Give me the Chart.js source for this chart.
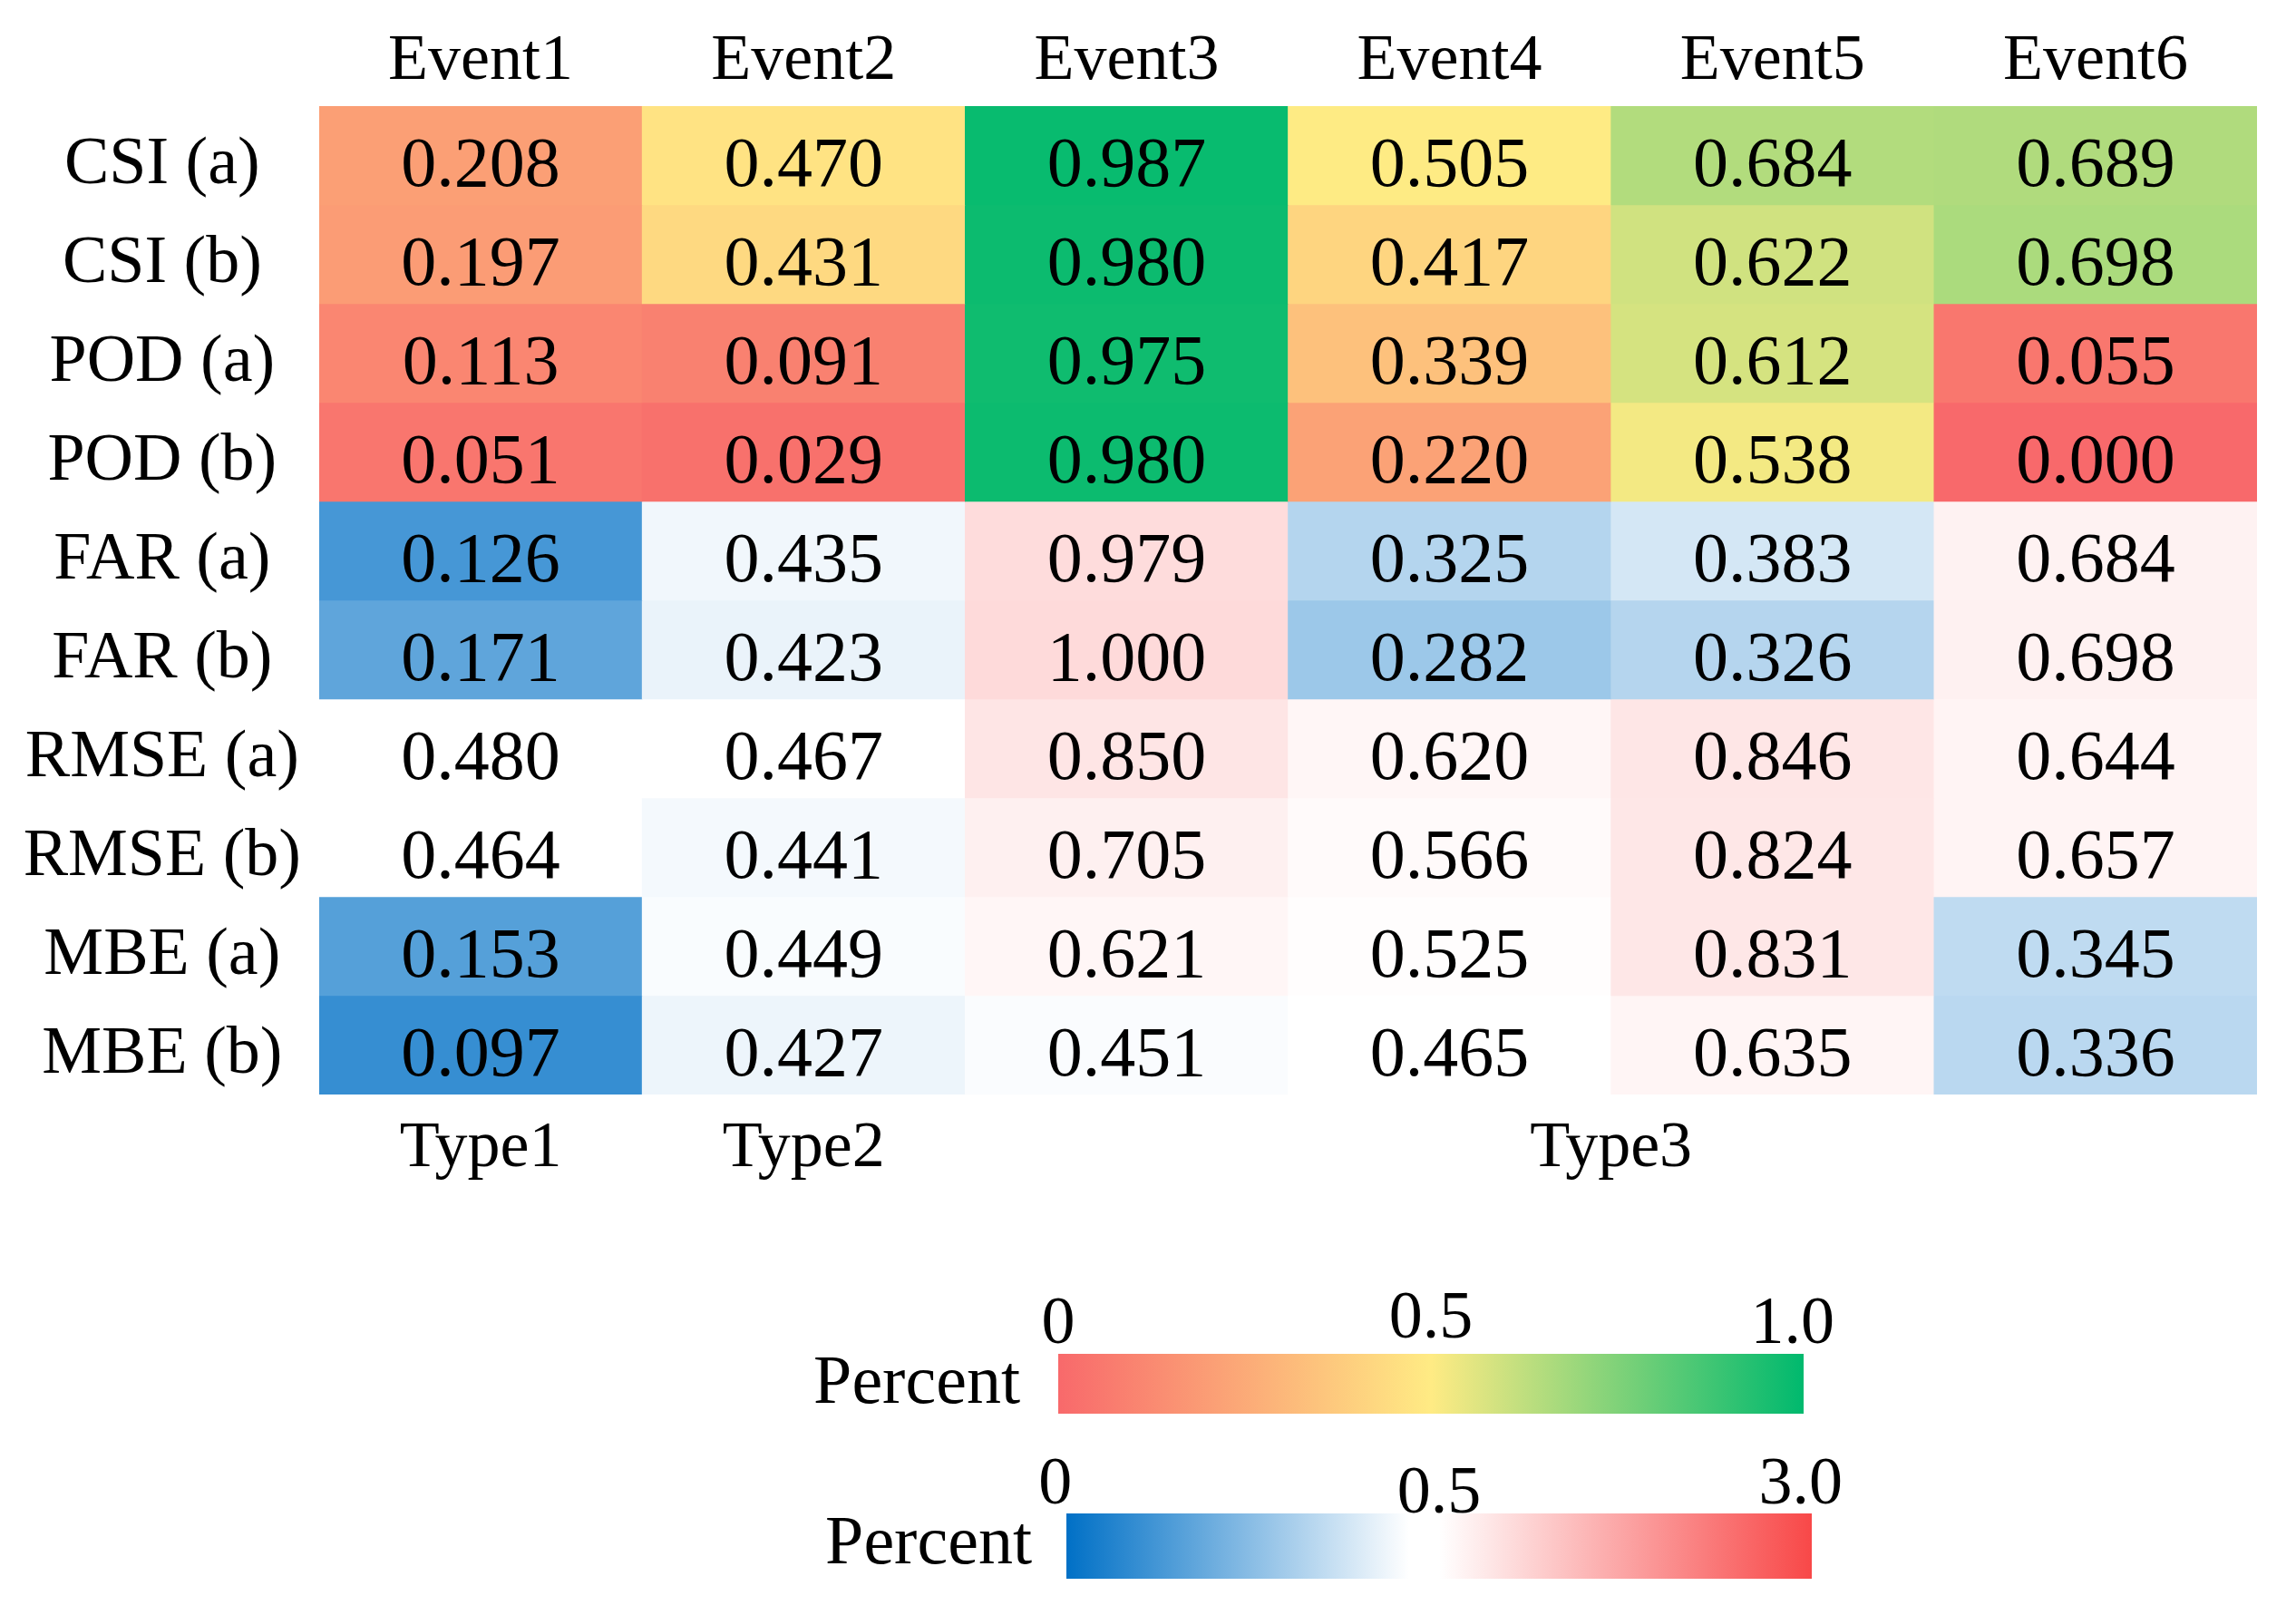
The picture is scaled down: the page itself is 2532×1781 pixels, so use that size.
<!DOCTYPE html>
<html>
<head>
<meta charset="utf-8">
<script src="https://cdn.jsdelivr.net/npm/chart.js@4.4.1/dist/chart.umd.min.js"></script>
<style>
  html, body { margin: 0; padding: 0; background: #fff; }
  #wrap { width: 2532px; height: 1781px; position: relative; }
</style>
</head>
<body>
<div id="wrap"><canvas id="heat"></canvas></div>
<script>
// column and row names
const events = ['Event1', 'Event2', 'Event3', 'Event4', 'Event5', 'Event6'];
const metrics = ['CSI (a)', 'CSI (b)', 'POD (a)', 'POD (b)', 'FAR (a)', 'FAR (b)',
                 'RMSE (a)', 'RMSE (b)', 'MBE (a)', 'MBE (b)'];

// values per row, one entry per event
const csiA  = [0.208, 0.470, 0.987, 0.505, 0.684, 0.689];
const csiB  = [0.197, 0.431, 0.980, 0.417, 0.622, 0.698];
const podA  = [0.113, 0.091, 0.975, 0.339, 0.612, 0.055];
const podB  = [0.051, 0.029, 0.980, 0.220, 0.538, 0.000];
const farA  = [0.126, 0.435, 0.979, 0.325, 0.383, 0.684];
const farB  = [0.171, 0.423, 1.000, 0.282, 0.326, 0.698];
const rmseA = [0.480, 0.467, 0.850, 0.620, 0.846, 0.644];
const rmseB = [0.464, 0.441, 0.705, 0.566, 0.824, 0.657];
const mbeA  = [0.153, 0.449, 0.621, 0.525, 0.831, 0.345];
const mbeB  = [0.097, 0.427, 0.451, 0.465, 0.635, 0.336];

const rows = [csiA, csiB, podA, podB, farA, farB, rmseA, rmseB, mbeA, mbeB];
// which colour scale each row uses: 'ryg' = red-yellow-green (0..1), 'bwr' = blue-white-red (0..3)
const rowScale = ['ryg', 'ryg', 'ryg', 'ryg', 'bwr', 'bwr', 'bwr', 'bwr', 'bwr', 'bwr'];

// group labels under the columns, with the column range each one covers
const typeLabels = ['Type1', 'Type2', 'Type3'];
const typeSpans = [[0, 1], [1, 2], [2, 6]];

// colour bar tick labels
const barTitle = 'Percent';
const bar1Ticks = ['0', '0.5', '1.0'];
const bar2Ticks = ['0', '0.5', '3.0'];

const FONT = '"Liberation Serif", "Times New Roman", serif';

const RED = [248, 105, 107], YEL = [255, 235, 132], GRN = [0, 185, 110];
const BLUE = [0, 112, 198], WHITE = [255, 255, 255], HOT = [248, 72, 72];

function mix(a, b, t) {
    t = Math.max(0, Math.min(1, t));
    return 'rgb(' + a.map((c, k) => Math.round(c + (b[k] - c) * t)).join(',') + ')';
}
function rgb(c) { return mix(c, c, 0); }

function rygColor(v) {
    if (v <= 0.5) return mix(RED, YEL, v / 0.5);
    return mix(YEL, GRN, Math.pow((v - 0.5) / 0.5, 1.2));
}

function bwrColor(v) {
    if (v <= 0.46) return mix(BLUE, WHITE, v / 0.46);
    if (v <= 0.5) return rgb(WHITE);
    return mix(WHITE, HOT, (v - 0.5) / 2.5);
}

// each row becomes a floating bar dataset spanning [i, i+1] on the y axis
const datasets = rows.map((vals, i) => ({
    label: metrics[i],
    data: vals.map(() => [i, i + 1]),
    backgroundColor: vals.map(v => rowScale[i] === 'ryg' ? rygColor(v) : bwrColor(v)),
    borderWidth: 0,
    grouped: false,
    barPercentage: 1,
    categoryPercentage: 1
}));

// write the value in every cell
const cellText = {
    id: 'cellText',
    afterDatasetsDraw(chart) {
        const ctx = chart.ctx;
        ctx.save();
        ctx.font = '78px ' + FONT;
        ctx.fillStyle = '#000';
        ctx.textAlign = 'center';
        ctx.textBaseline = 'middle';
        chart.data.datasets.forEach((ds, i) => {
            chart.getDatasetMeta(i).data.forEach((bar, j) => {
                const y = (bar.y + bar.base) / 2;
                ctx.fillText(rows[i][j].toFixed(3), bar.x, y + 13);
            });
        });
        ctx.restore();
    }
};

// the two colour bars under the table
const colorBars = {
    id: 'colorBars',
    afterDraw(chart) {
        const ctx = chart.ctx;
        ctx.save();

        function drawBar(x, y, w, h, stops, ticks, tickPos, tickY, titleRight, titleY) {
            const g = ctx.createLinearGradient(x, 0, x + w, 0);
            stops.forEach(s => g.addColorStop(s[0], s[1]));
            ctx.fillStyle = g;
            ctx.fillRect(x, y, w, h);

            ctx.fillStyle = '#000';
            ctx.font = '74px ' + FONT;
            ctx.textBaseline = 'alphabetic';
            ctx.textAlign = 'center';
            ticks.forEach((t, k) => ctx.fillText(t, x + w * tickPos[k], tickY[k]));
            ctx.font = '76px ' + FONT;
            ctx.textAlign = 'right';
            ctx.fillText(barTitle, titleRight, titleY);
        }

        drawBar(1167, 1493, 822, 66,
            [[0, rgb(RED)], [0.5, rgb(YEL)], [1, rgb(GRN)]],
            bar1Ticks, [0, 0.5, 0.985], [1481, 1475, 1481], 1125, 1547);

        drawBar(1176, 1669, 822, 72,
            [[0, rgb(BLUE)], [0.46, 'rgb(255,255,255)'], [0.5, 'rgb(255,255,255)'], [1, rgb(HOT)]],
            bar2Ticks, [-0.015, 0.5, 0.985], [1658, 1668, 1658], 1138, 1724);

        ctx.restore();
    }
};

const ctx = document.getElementById('heat').getContext('2d');
new Chart(ctx, {
    type: 'bar',
    data: { labels: events, datasets: datasets },
    options: {
        responsive: true,
        maintainAspectRatio: false,
        animation: false,
        layout: { padding: { left: 0, right: 43, top: 0, bottom: 0 } },
        plugins: { legend: { display: false }, tooltip: { enabled: false } },
        scales: {
            x: {
                position: 'top',
                grid: { display: false },
                border: { display: false },
                ticks: { color: '#000', font: { family: FONT, size: 72 }, padding: -2, maxRotation: 0 },
                afterFit(scale) { scale.height = 117; }
            },
            x2: {
                type: 'linear',
                position: 'bottom',
                offset: false,
                min: 0,
                max: events.length,
                grid: { display: false },
                border: { display: false },
                afterBuildTicks(scale) {
                    scale.ticks = typeSpans.map(s => ({ value: (s[0] + s[1]) / 2 }));
                },
                ticks: {
                    color: '#000', font: { family: FONT, size: 72 }, padding: 9,
                    autoSkip: false, maxRotation: 0,
                    callback: (v, i) => typeLabels[i]
                },
                afterFit(scale) { scale.height = 574; }
            },
            y: {
                type: 'linear',
                min: 0,
                max: metrics.length,
                reverse: true,
                grid: { display: false },
                border: { display: false },
                afterBuildTicks(scale) {
                    scale.ticks = metrics.map((m, i) => ({ value: i + 0.6 }));
                },
                ticks: {
                    color: '#000', font: { family: FONT, size: 74 }, padding: 12,
                    crossAlign: 'center', autoSkip: false,
                    callback: (v, i) => metrics[i]
                },
                afterFit(scale) { scale.width = 352; }
            }
        }
    },
    plugins: [cellText, colorBars]
});
</script>
</body>
</html>
